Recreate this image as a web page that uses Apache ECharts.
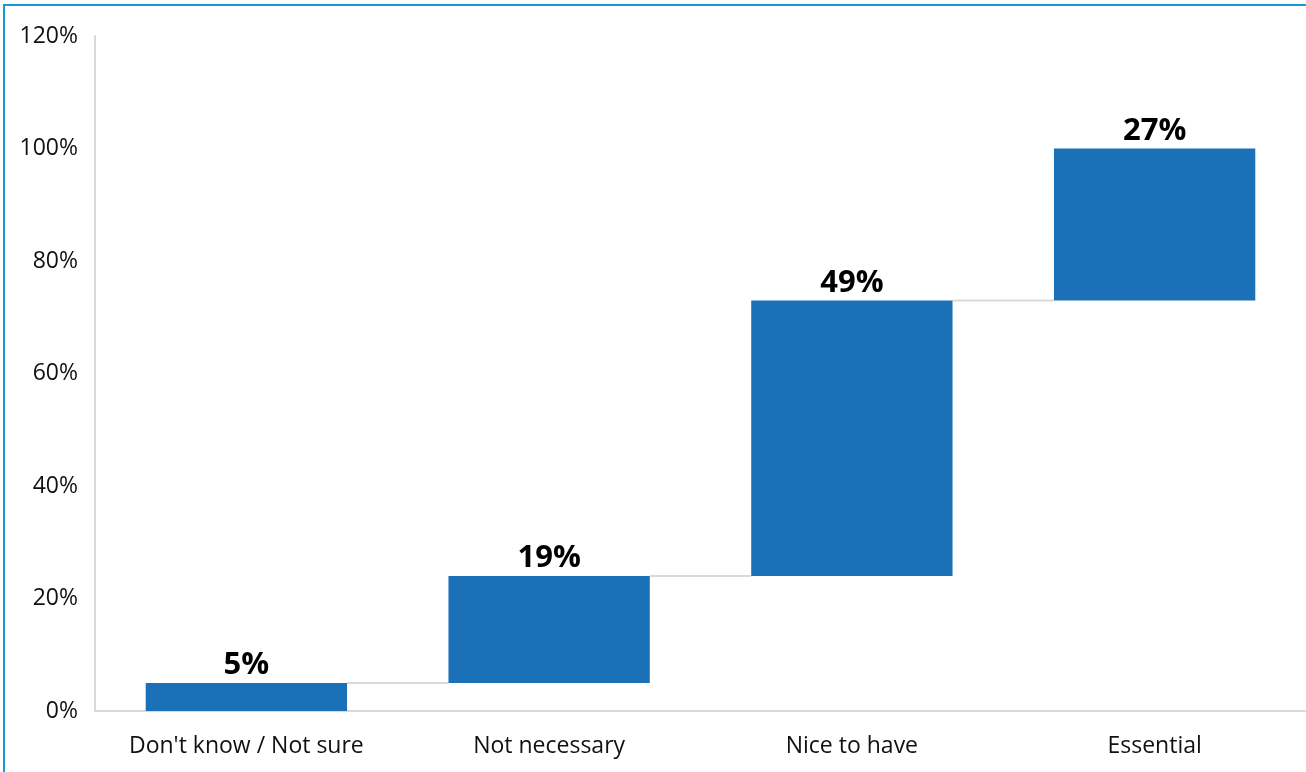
<!DOCTYPE html>
<html>
<head>
<meta charset="utf-8">
<script src="https://cdn.jsdelivr.net/npm/echarts@6/dist/echarts.min.js"></script>
<style>
  html, body { margin: 0; padding: 0; background: #fff; }
  #chart { width: 1306px; height: 772px; }
</style>
</head>
<body>
<div id="chart"></div>
<script>
// Survey answers, shown as a waterfall climbing to 100%
const categories = ["Don't know / Not sure", 'Not necessary', 'Nice to have', 'Essential'];
const values = [5, 19, 49, 27];
const yTicks = { min: 0, max: 120, interval: 20 };

// running totals: invisible base under each step, and the level each step ends on
const bases = [];
const tops = [];
let running = 0;
values.forEach(v => { bases.push(running); running += v; tops.push(running); });

const barFrac = 0.665;
const fontFamily = '"Open Sans", "Noto Sans", sans-serif';

const chart = echarts.init(document.getElementById('chart'));
chart.setOption({
  animation: false,
  grid: { left: 95, right: 0, top: 36, bottom: 61, containLabel: false },
  graphic: [
    { type: 'rect', shape: { x: 3, y: 4, width: 1303, height: 2 }, style: { fill: '#169bd7' } },
    { type: 'rect', shape: { x: 3, y: 4, width: 2, height: 768 }, style: { fill: '#169bd7' } }
  ],
  xAxis: {
    type: 'category',
    data: categories,
    axisLine: { show: true, lineStyle: { color: '#d9d9d9', width: 2 } },
    axisTick: { show: false },
    axisLabel: { color: '#111', fontSize: 23, fontFamily, margin: 24, interval: 0, hideOverlap: false }
  },
  yAxis: {
    type: 'value',
    min: yTicks.min, max: yTicks.max, interval: yTicks.interval,
    axisLine: { show: true, lineStyle: { color: '#d9d9d9', width: 2 } },
    axisTick: { show: false },
    splitLine: { show: false },
    axisLabel: { color: '#111', fontSize: 23, fontFamily, margin: 17, formatter: '{value}%' }
  },
  series: [
    {
      type: 'bar', stack: 'w', barWidth: (barFrac * 100) + '%',
      itemStyle: { color: 'transparent' },
      data: bases, silent: true
    },
    {
      type: 'bar', stack: 'w', barWidth: (barFrac * 100) + '%',
      itemStyle: { color: '#1a71b8' },
      label: {
        show: true, position: 'top', distance: 2,
        formatter: p => p.value + '%',
        color: '#000', fontSize: 31, fontWeight: 'bold', fontFamily
      },
      data: values
    },
    {
      // connectors linking the top of each step to the start of the next one
      type: 'custom',
      silent: true,
      z: 1,
      data: tops.slice(0, -1).map((t, i) => [i, t]),
      renderItem: (params, api) => {
        const p = api.coord([api.value(0), api.value(1)]);
        const band = api.size([1, 0])[0];
        const half = band * barFrac / 2;
        return {
          type: 'line',
          shape: { x1: p[0] + half, y1: p[1], x2: p[0] + band - half, y2: p[1] },
          style: { stroke: '#d9d9d9', lineWidth: 2 }
        };
      }
    }
  ]
});
</script>
</body>
</html>
